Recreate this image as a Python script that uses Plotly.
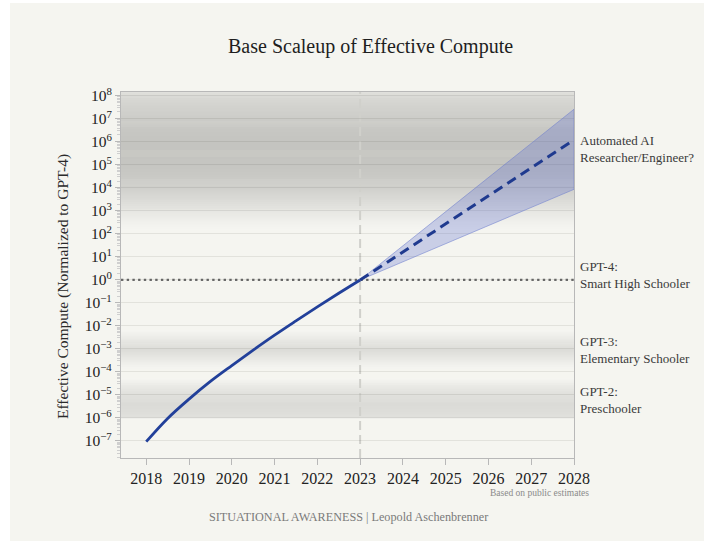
import plotly.graph_objects as go

# ---------------- data ----------------
hist_years = [2018.0, 2018.5, 2019.0, 2019.5, 2020.0, 2020.5, 2021.0, 2021.5, 2022.0, 2022.5, 2023.0]
hist_log = [-7.03, -6.02, -5.18, -4.41, -3.72, -3.05, -2.40, -1.78, -1.17, -0.58, 0.0]
hist_values = [10 ** v for v in hist_log]

proj_years = [2023, 2028]
proj_median = [1.0, 1.23e6]
proj_upper = [1.0, 2.63e7]
proj_lower = [1.0, 8.7e3]

year_ticks = list(range(2018, 2029))
y_exponents = list(range(-7, 9))
y_tickvals = [10.0 ** e for e in y_exponents]
y_ticktext = ["10<sup>%s</sup>" % (str(e).replace("-", "\u2212")) for e in y_exponents]

milestone_labels = [
    "Automated AI<br>Researcher/Engineer?",
    "GPT-4:<br>Smart High Schooler",
    "GPT-3:<br>Elementary Schooler",
    "GPT-2:<br>Preschooler",
]
milestone_label_px = [149, 275, 349.5, 399.5]

title_text = "Base Scaleup of Effective Compute"
ytitle_text = "Effective Compute (Normalized to GPT-4)"
source_text = "Based on public estimates"
footer_text = "SITUATIONAL AWARENESS | Leopold Aschenbrenner"

# ---------------- layout geometry ----------------
W, H = 704, 541
L_M, R_M, T_M, B_M = 121, 130, 92, 83
PW = W - L_M - R_M
PH = H - T_M - B_M
YMIN, YMAX = -7.74, 8.17
XMIN, XMAX = 2017.41, 2028.0
BG = "#f5f5f0"
FONT = "Liberation Serif"


def px(x):
    return (x - L_M) / PW


def py(y):
    return (T_M + PH - y) / PH


def yd(logv):
    return (logv - YMIN) / (YMAX - YMIN)


# gray gradient profiles (log value ascending, gray level)
bands = [
    [(2.2, 245), (2.6, 239), (3.0, 230), (3.5, 218), (4.0, 208), (4.5, 201), (5.0, 197),
     (5.5, 196), (6.0, 196), (6.5, 199), (7.0, 204), (7.5, 210), (8.0, 217), (8.17, 223)],
    [(-3.85, 245), (-3.6, 238), (-3.3, 228), (-3.0, 219), (-2.8, 226), (-2.5, 236), (-2.2, 245)],
    [(-6.02, 245), (-5.98, 226), (-5.8, 222), (-5.4, 219), (-5.0, 223), (-4.6, 234), (-4.3, 245)],
]


def interp(prof, v):
    for (a, ga), (b, gb) in zip(prof, prof[1:]):
        if a <= v <= b:
            t = (v - a) / (b - a) if b != a else 0
            return ga + t * (gb - ga)
    return 245


shapes = []
# outer light panel (white border at left/top)
shapes.append(dict(type="rect", xref="paper", yref="paper",
                   x0=px(10), x1=px(705), y0=py(542), y1=py(3),
                   fillcolor=BG, line=dict(width=0), layer="below"))

step = 0.045
for prof in bands:
    lo, hi = prof[0][0], prof[-1][0]
    v = lo
    while v < hi - 1e-9:
        g = interp(prof, v + step / 2)
        col = "rgb(%.2f,%.2f,%.2f)" % (g, g, max(g - 4, 0))
        shapes.append(dict(type="rect", xref="x domain", yref="y domain",
                           x0=0, x1=1, y0=yd(v), y1=yd(min(v + step * 1.5, hi)),
                           fillcolor=col, line=dict(width=0), layer="below"))
        v += step

# vertical dashed line at 2023
shapes.append(dict(type="line", xref="x", yref="y domain", x0=2023, x1=2023, y0=0, y1=1,
                   line=dict(color="#d0d0cb", width=2, dash="9px,5px"), layer="below"))
# dotted GPT-4 line
shapes.append(dict(type="line", xref="x domain", yref="y domain", x0=0, x1=1,
                   y0=yd(0), y1=yd(0),
                   line=dict(color="#6a6a6a", width=2.2, dash="2.4px,3.3px"), layer="below"))

fig = go.Figure()

# uncertainty band
fig.add_trace(go.Scatter(
    x=proj_years + proj_years[::-1],
    y=proj_upper + proj_lower[::-1],
    fill="toself", fillcolor="rgba(85,105,205,0.28)",
    line=dict(color="rgba(110,125,205,0.55)", width=1),
    mode="lines", hoverinfo="skip", showlegend=False))

# median projection
fig.add_trace(go.Scatter(
    x=proj_years, y=proj_median, mode="lines",
    line=dict(color="#1f3a8f", width=3, dash="10px,6px"), showlegend=False))

# historical curve
fig.add_trace(go.Scatter(
    x=hist_years, y=hist_values, mode="lines", line_shape="spline",
    line=dict(color="#22409a", width=2.8, smoothing=1.0), showlegend=False))

annotations = []
annotations.append(dict(text=title_text, x=px(370), y=py(47), xref="paper", yref="paper",
                        showarrow=False, font=dict(family=FONT, size=20, color="#1e1e1e"),
                        xanchor="center", yanchor="middle"))
annotations.append(dict(text=ytitle_text, x=px(63), y=py(287), xref="paper", yref="paper",
                        showarrow=False, textangle=-90,
                        font=dict(family=FONT, size=15.5, color="#2a2a2a"),
                        xanchor="center", yanchor="middle"))
for lab, ypx in zip(milestone_labels, milestone_label_px):
    annotations.append(dict(text=lab, x=px(578), y=py(ypx), xref="paper", yref="paper",
                            showarrow=False, align="left",
                            font=dict(family=FONT, size=13, color="#3a3a3a"),
                            xanchor="left", yanchor="middle"))
annotations.append(dict(text=source_text, x=px(591), y=py(493), xref="paper", yref="paper",
                        showarrow=False, font=dict(family=FONT, size=9.5, color="#8a8a8a"),
                        xanchor="right", yanchor="middle"))
annotations.append(dict(text=footer_text, x=px(348), y=py(517), xref="paper", yref="paper",
                        showarrow=False, font=dict(family=FONT, size=12.2, color="#7a7a7a"),
                        xanchor="center", yanchor="middle"))

fig.update_layout(
    width=W, height=H,
    margin=dict(l=L_M, r=R_M, t=T_M, b=B_M, autoexpand=False),
    paper_bgcolor="white", plot_bgcolor=BG,
    font=dict(family=FONT, color="#222222"),
    shapes=shapes, annotations=annotations,
    showlegend=False,
    xaxis=dict(range=[XMIN, XMAX], tickmode="array", tickvals=year_ticks,
               ticktext=[str(y) for y in year_ticks],
               showgrid=False, zeroline=False,
               showline=True, linecolor="#b8b8b8", linewidth=1.2, mirror=True,
               ticks="outside", ticklen=6, tickcolor="#b8b8b8",
               tickfont=dict(family=FONT, size=16, color="#222222")),
    yaxis=dict(type="log", range=[YMIN, YMAX], tickmode="array",
               tickvals=y_tickvals, ticktext=y_ticktext,
               showgrid=True, gridcolor="rgba(60,60,50,0.10)", gridwidth=1.2,
               zeroline=False,
               showline=True, linecolor="#b8b8b8", linewidth=1.2, mirror=True,
               ticks="outside", ticklen=5, tickcolor="#b8b8b8",
               minor=dict(ticks="outside", ticklen=3, tickcolor="#cfcfcf", dtick="D1",
                          showgrid=False),
               tickfont=dict(family=FONT, size=15.5, color="#222222")),
)

fig.write_html("out.html")
